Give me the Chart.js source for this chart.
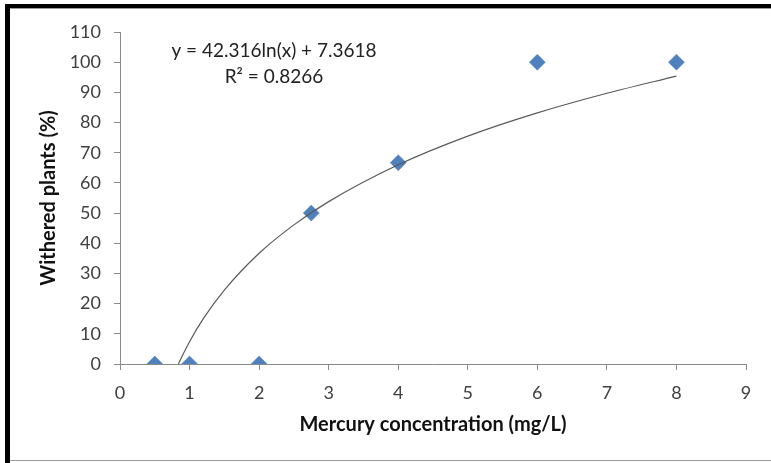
<!DOCTYPE html>
<html>
<head>
<meta charset="utf-8">
<script src="https://cdn.jsdelivr.net/npm/chart.js@4/dist/chart.umd.min.js"></script>
<style>
  html, body { margin: 0; padding: 0; background: #fff; }
  #wrap { width: 771px; height: 463px; position: relative; }
</style>
</head>
<body>
<div id="wrap"><canvas id="c" width="771" height="463"></canvas></div>
<script>
// Observed data
const concX = [0.5, 1, 2, 2.75, 4, 6, 8];
const witheredY = [0, 0, 0, 50, 66.7, 100, 100];

// Logarithmic trendline
const trendX = [0.84, 0.9, 1.0, 1.2, 1.5, 2, 2.5, 3, 4, 5, 6, 7, 8];
const trendY = [0, 2.9, 7.4, 15.1, 24.5, 36.7, 46.1, 53.8, 66.0, 75.5, 83.2, 89.7, 95.4];

const equationLines = ['y = 42.316ln(x) + 7.3618', 'R\u00B2 = 0.8266'];
const xTitle = 'Mercury concentration (mg/L)';
const yTitle = 'Withered plants (%)';

const FONT = 'Lato, "Open Sans", "DejaVu Sans", sans-serif';

const framePlugin = {
  id: 'frame',
  beforeDraw(chart) {
    const ctx = chart.ctx;
    ctx.save();
    ctx.fillStyle = '#ffffff';
    ctx.fillRect(0, 0, chart.width, chart.height);
    ctx.restore();
  },
  afterDraw(chart) {
    const ctx = chart.ctx;
    ctx.save();
    // frame
    ctx.fillStyle = '#000';
    ctx.fillRect(5, 4, chart.width - 5, 4);
    ctx.fillRect(5, 4, 5, chart.height - 4);
    ctx.fillStyle = '#9a9a9a';
    ctx.fillRect(10, 8, chart.width - 10, 1);
    ctx.fillRect(10, 460, chart.width - 10, 1);
    // equation text
    ctx.fillStyle = '#222';
    ctx.font = '19px ' + FONT;
    ctx.textAlign = 'center';
    ctx.textBaseline = 'middle';
    ctx.fillText(equationLines[0], 274, 51);
    ctx.fillText(equationLines[1], 274, 77);
    ctx.restore();
  }
};

const trendData = trendX.map((x, i) => ({ x: x, y: trendY[i] }));
const pointData = concX.map((x, i) => ({ x: x, y: witheredY[i] }));

new Chart(document.getElementById('c'), {
  type: 'scatter',
  data: {
    datasets: [
      {
        type: 'line',
        label: 'Trend',
        data: trendData,
        borderColor: '#5a5a5a',
        borderWidth: 1.2,
        pointRadius: 0,
        fill: false,
        tension: 0.4,
        cubicInterpolationMode: 'monotone',
        order: 0
      },
      {
        label: 'Withered',
        data: pointData,
        pointStyle: 'rectRot',
        pointRadius: 8,
        pointHoverRadius: 8,
        backgroundColor: '#4F81BD',
        borderColor: '#4F81BD',
        borderWidth: 0.5,
        order: 1
      }
    ]
  },
  options: {
    responsive: false,
    animation: false,
    devicePixelRatio: 1,
    layout: { padding: { left: 0, right: 25, top: 32, bottom: 0 } },
    plugins: {
      legend: { display: false },
      tooltip: { enabled: false }
    },
    scales: {
      x: {
        type: 'linear',
        min: 0, max: 9,
        ticks: { stepSize: 1, color: '#404040', padding: 12, font: { family: FONT, size: 18 } },
        grid: { drawOnChartArea: false, drawTicks: true, tickLength: 6, color: '#8a8a8a' },
        border: { color: '#8a8a8a', width: 1 },
        title: { display: true, text: xTitle, color: '#111', font: { family: FONT, size: 20, weight: 'bold' }, padding: { top: 0, bottom: 26 } },
        afterFit(scale) { scale.height = 99; }
      },
      y: {
        type: 'linear',
        min: 0, max: 110,
        ticks: { stepSize: 10, color: '#404040', padding: 13, font: { family: FONT, size: 18 } },
        grid: { drawOnChartArea: false, drawTicks: true, tickLength: 6, color: '#8a8a8a' },
        border: { color: '#8a8a8a', width: 1 },
        title: { display: true, text: yTitle, color: '#111', font: { family: FONT, size: 20, weight: 'bold' }, padding: { top: 37, bottom: 0 } },
        afterFit(scale) { scale.width = 120; }
      }
    }
  },
  plugins: [framePlugin]
});
</script>
</body>
</html>
